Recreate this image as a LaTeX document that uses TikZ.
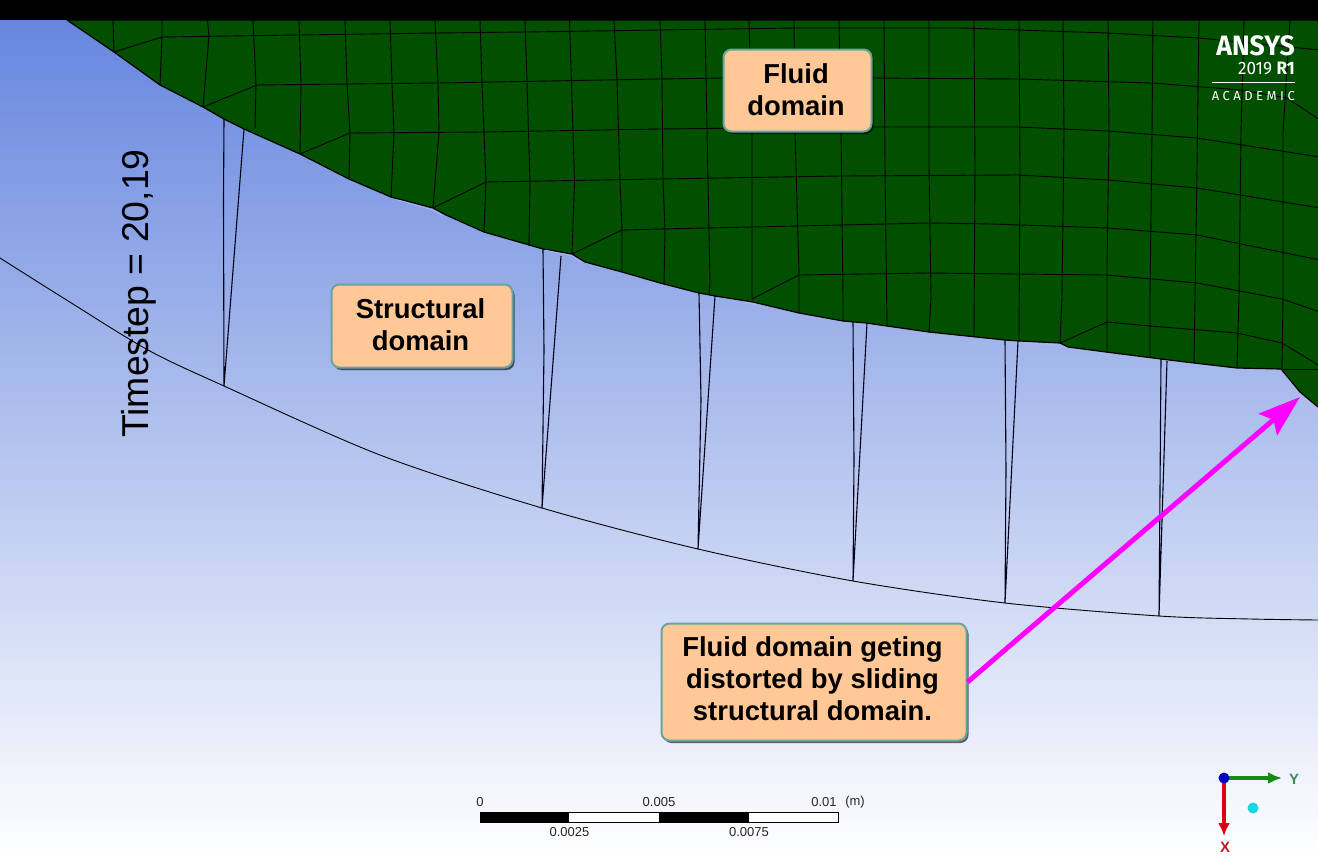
\documentclass[tikz,border=0pt]{standalone}
\usepackage{fontspec}
\setmainfont{Liberation Sans}
\newfontfamily\logofont{Fira Sans}
\usetikzlibrary{arrows.meta,shadows,calc}
\definecolor{bgtop}{RGB}{102,134,222}
\definecolor{fluidgreen}{RGB}{0,80,0}
\definecolor{boxfill}{RGB}{255,200,150}
\definecolor{boxedge}{RGB}{105,165,160}
\definecolor{triadgreen}{RGB}{20,140,20}
\definecolor{pointer}{RGB}{255,0,255}
\definecolor{triadlabel}{RGB}{60,140,90}
\definecolor{triadred}{RGB}{220,0,20}
\definecolor{triadblue}{RGB}{0,0,190}
\definecolor{ballcyan}{RGB}{25,215,225}
\newcommand{\boxtext}[2][0pt]{\vbox{\kern#1\hbox{\hspace*{-3pt}\begin{tabular}{@{}c@{}}#2\end{tabular}}}}
\tikzset{
  mesh/.style={line width=0.9pt,black},
  slit/.style={line width=1.1pt,black!90!blue},
  callout/.style={draw=boxedge,fill=boxfill,line width=2pt,rounded corners=8pt,align=center,
    font=\fontsize{27.4}{32}\selectfont\bfseries,inner sep=0pt,
    drop shadow={shadow xshift=2pt,shadow yshift=-2.5pt,fill=black,opacity=.6}},
  scalelabel/.style={font=\fontsize{13}{15}\selectfont,text=black!85,inner sep=0pt},
}
\begin{document}
\begin{tikzpicture}[x=1pt,y=-1pt]
\path[use as bounding box] (0,0) rectangle (1318,857);
\begin{scope}
\clip (0,0) rectangle (1318,857);
% background
\shade[top color=bgtop,bottom color=white] (0,20) rectangle (1318,857);
\fill[black] (0,0) rectangle (1318,20);
% structural domain
\draw[line width=0.9pt,black] plot[smooth,tension=.5] coordinates {(0,258) (65,299) (148,350) (224,386) (380,455) (542,508) (698,549) (853,581) (1005,603) (1159,616) (1250,619) (1318,620)};
\draw[slit] (224,119) -- (223.5,200) -- (224,386) -- (244,129);
\draw[slit] (543,249) -- (544,350) -- (542,508) -- (561,256);
\draw[slit] (699,293) -- (701,400) -- (698,549) -- (715,296);
\draw[slit] (853,321) -- (854,460) -- (853,581) -- (867,323);
\draw[slit] (1005,340) -- (1006,470) -- (1005,603) -- (1018,341);
\draw[slit] (1161,359) -- (1160,490) -- (1159,616) -- (1167,361);
% fluid domain
\filldraw[fluidgreen,draw=black,line width=1.2pt] (67,20) -- (114,52) -- (160,85) -- (203,107) -- (224,119) -- (244,129) -- (300,154) -- (349,179) -- (391,197) -- (433,208) -- (446,215) -- (484,232) -- (543,249) -- (572,254) -- (585,262) -- (622,272) -- (660,283) -- (699,293) -- (715,296) -- (753,302) -- (799,313) -- (843,321) -- (866,323) -- (929,332) -- (1005,340) -- (1020,341) -- (1060,343) -- (1068,347) -- (1106,352) -- (1161,359) -- (1194,363) -- (1237,368) -- (1281,369) -- (1300,392) -- (1318,407) -- (1322,407) -- (1322,20) -- cycle;
% slivers along the interface
\draw[white!70!blue,line width=0.8pt] (398,200) -- (433,210) -- (443,216);
\draw[white!70!blue,line width=0.8pt] (545,250) -- (572,256) -- (582,263);
\draw[white!70!blue,line width=0.8pt] (745,302) -- (757,305);
\draw[white!70!blue,line width=0.8pt] (1020,343) -- (1060,345) -- (1066,348);
% mesh: running across
\draw[mesh] (114,52) -- (162,37) -- (435,33) -- (526,32) -- (660,30) -- (795,28) -- (963,28) -- (1018,30) -- (1108,33) -- (1199,38) -- (1320,50);
\draw[mesh] (203,107) -- (257,85) -- (438,83) -- (660,79) -- (723,78) -- (870,78) -- (1018,79) -- (1152,83) -- (1241,90) -- (1287,98) -- (1320,120);
\draw[mesh] (300,154) -- (350,133) -- (484,132) -- (660,129) -- (841,127) -- (1018,127) -- (1108,131) -- (1197,138) -- (1320,157);
\draw[mesh] (433,208) -- (486,182) -- (660,179) -- (841,176) -- (1018,175) -- (1108,180) -- (1197,188) -- (1320,208);
\draw[mesh] (572,254) -- (622,230) -- (660,229) -- (799,226) -- (929,223) -- (992,224) -- (1108,228) -- (1197,235) -- (1320,260);
\draw[mesh] (752,299) -- (799,275) -- (929,273) -- (1106,275) -- (1197,283) -- (1282,299) -- (1320,312);
\draw[mesh] (1060,343) -- (1107,322) -- (1150,326) -- (1237,333) -- (1282,343) -- (1320,366);
\draw[mesh] (1281,369) -- (1320,369);
% mesh: running down
\draw[mesh] (113,20) -- (114,52);
\draw[mesh] (162,20) -- (162,37) -- (160,85);
\draw[mesh] (207.5,20) -- (209,36) -- (203,107);
\draw[mesh] (253,20) -- (256,85) -- (255,129);
\draw[mesh] (299,20) -- (301,83) -- (300,154);
\draw[mesh] (345,20) -- (347,83) -- (350,133) -- (349,179);
\draw[mesh] (390,20) -- (392,83) -- (394,133) -- (391,197);
\draw[mesh] (435,20) -- (438,83) -- (439,133) -- (433,208);
\draw[mesh] (480,20) -- (482,83) -- (486,182) -- (484,232);
\draw[mesh] (525,20) -- (527,82) -- (530,182) -- (529,246);
\draw[mesh] (569.5,20) -- (571.5,82) -- (574.5,182) -- (572,254);
\draw[mesh] (614,20) -- (617,80) -- (620,180) -- (622,230) -- (622,272);
\draw[mesh] (660,20) -- (662,79) -- (663,180) -- (665,229) -- (664,284);
\draw[mesh] (705,20) -- (707,130) -- (710,283) -- (709,295);
\draw[mesh] (749,20) -- (752,130) -- (752,299);
\draw[mesh] (794,20) -- (795,130) -- (799,275) -- (799,313);
\draw[mesh] (839,20) -- (841,127) -- (843,297) -- (843,321);
\draw[mesh] (884,20) -- (885,167) -- (887,325);
\draw[mesh] (929,20) -- (929,167) -- (931,297) -- (929,332);
\draw[mesh] (974,20) -- (975,167) -- (974,337);
\draw[mesh] (1019,20) -- (1020,167) -- (1019,341);
\draw[mesh] (1063,20) -- (1064,133) -- (1062,297) -- (1060,343);
\draw[mesh] (1108,20) -- (1109,133) -- (1107,267) -- (1107,352);
\draw[mesh] (1153,20) -- (1152,133) -- (1150,297) -- (1150,357);
\draw[mesh] (1199,20) -- (1197,167) -- (1194,363);
\draw[mesh] (1244,20) -- (1241,133) -- (1239,297) -- (1237,368);
\draw[mesh] (1290,20) -- (1283,133) -- (1283,297) -- (1282,369);
% callouts
\node[callout,minimum width=148pt,minimum height=82pt] (fluid) at (797.5,90.5) {\boxtext[5pt]{Fluid\\domain}};
\node[callout,minimum width=181pt,minimum height=83pt] (struct) at (422,326) {\boxtext[4pt]{Structural\\domain}};
\node[callout,minimum width=305pt,minimum height=117pt] (distort) at (814,682) {\boxtext[1pt]{Fluid domain geting\\distorted by sliding\\structural domain.}};
\coordinate (arrowtip) at (1300,397);
\draw[-{Stealth[length=42pt,width=28pt,inset=7pt]},line width=5pt,pointer] (distort.east) -- (arrowtip);
% rotated label
\node[rotate=90,font=\fontsize{37.4}{40}\selectfont,inner sep=0pt] (timestep) at (139,293.5) {Timestep = 20,19};
% logo
\node[white,font=\logofont\bfseries\fontsize{28}{28}\selectfont,anchor=east,inner sep=0pt] (ansys) at (1295,46) {\scalebox{.95}[1]{ANSYS}};
\node[white,font=\logofont\fontsize{18}{18}\selectfont,anchor=east,inner sep=0pt] (release) at (1295,68.5) {\scalebox{.95}[1]{2019 \textbf{R1}}};
\coordinate (logoL) at (1212,82.5);
\coordinate (logoR) at (1295,82.5);
\draw[white,line width=1pt] (logoL) -- (logoR);
\node[white,font=\logofont\fontsize{13}{13}\selectfont,anchor=east,inner sep=0pt] (academic) at (1295,96) {\hbox to 83pt{A\hfil C\hfil A\hfil D\hfil E\hfil M\hfil I\hfil C}};
% scale bar
\coordinate (sb0) at (480,812);
\coordinate (sb1) at (569,822);
\coordinate (sb2) at (659,812);
\coordinate (sb3) at (749,822);
\coordinate (sb4) at (838,812);
\filldraw[fill=white,draw=black,line width=.8pt] (sb0) rectangle (838,822);
\fill[black] (sb0) rectangle (sb1);
\fill[black] (sb2) rectangle (sb3);
\node[scalelabel] (s0) at (480,802) {0};
\node[scalelabel] (s1) at (659,802) {0.005};
\node[scalelabel] (s2) at (824,802) {0.01};
\node[scalelabel] (s3) at (855,802) {(m)};
\node[scalelabel] (s4) at (569.5,832) {0.0025};
\node[scalelabel] (s5) at (749,832) {0.0075};
% triad
\coordinate (torigin) at (1224,778);
\coordinate (tY) at (1282,778);
\coordinate (tX) at (1224,836);
\draw[-{Latex[length=14pt,width=12pt]},triadgreen,line width=3.5pt] (torigin) -- (tY);
\draw[-{Latex[length=13pt,width=12pt]},triadred,line width=3.5pt] (torigin) -- (tX);
\fill[triadblue] (1224,778) circle (5.5pt);
\fill[ballcyan] (1253,808) circle (5.5pt);
\node[font=\fontsize{15}{15}\selectfont\bfseries,text=triadlabel,inner sep=0pt] (ylabel) at (1294,779) {Y};
\node[font=\fontsize{15}{15}\selectfont\bfseries,text=triadred!85!gray,inner sep=0pt] (xlabel) at (1225,847) {X};
\end{scope}
\end{tikzpicture}
\end{document}
